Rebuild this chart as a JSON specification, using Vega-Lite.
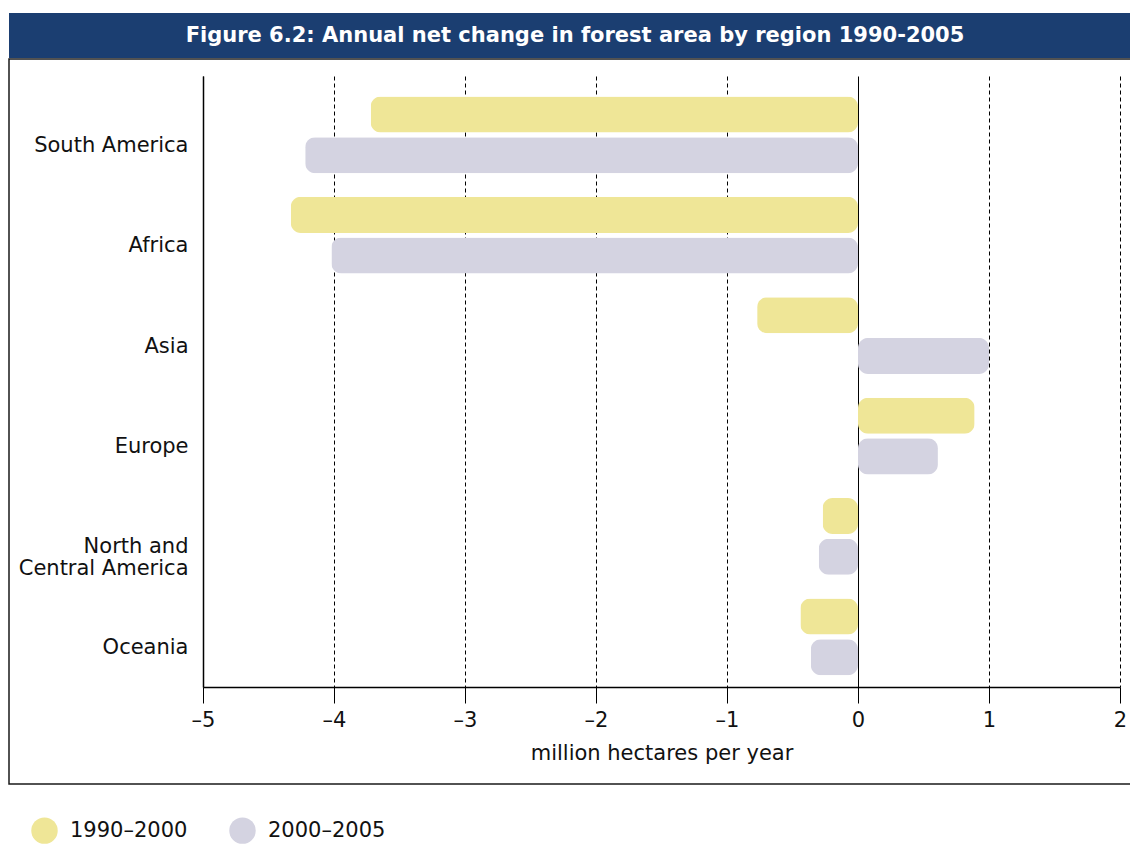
{
  "$schema": "https://vega.github.io/schema/vega-lite/v6.json",
  "padding": {"left": 8, "top": 13, "right": 0, "bottom": 0},
  "background": "white",
  "spacing": 0,
  "config": {"font": "DejaVu Sans", "view": {"stroke": null}},
  "datasets": {
    "forest": [
      {"region": "South America", "period": "1990–2000", "change": -3.72},
      {"region": "South America", "period": "2000–2005", "change": -4.22},
      {"region": "Africa", "period": "1990–2000", "change": -4.33},
      {"region": "Africa", "period": "2000–2005", "change": -4.02},
      {"region": "Asia", "period": "1990–2000", "change": -0.77},
      {"region": "Asia", "period": "2000–2005", "change": 1.0},
      {"region": "Europe", "period": "1990–2000", "change": 0.89},
      {"region": "Europe", "period": "2000–2005", "change": 0.61},
      {"region": "North and Central America", "period": "1990–2000", "change": -0.27},
      {"region": "North and Central America", "period": "2000–2005", "change": -0.3},
      {"region": "Oceania", "period": "1990–2000", "change": -0.44},
      {"region": "Oceania", "period": "2000–2005", "change": -0.36}
    ],
    "heading": [{"label": "Figure 6.2: Annual net change in forest area by region 1990-2005"}]
  },
  "vconcat": [
    {
      "width": 1124,
      "height": 45,
      "view": {"fill": "#1b3e71", "stroke": null},
      "data": {"name": "heading"},
      "mark": {"type": "text", "color": "white", "fontSize": 21, "fontWeight": "bold", "font": "DejaVu Sans", "baseline": "middle", "dx": 4},
      "encoding": {"text": {"field": "label"}}
    },
    {
      "width": 1124,
      "height": 725,
      "view": {"stroke": "#1a1a1a", "strokeWidth": 1.5, "fill": "white"},
      "data": {"name": "forest"},
      "encoding": {
        "y": {
          "field": "region",
          "type": "nominal",
          "sort": null,
          "scale": {"range": [17, 628], "paddingInner": 0, "paddingOuter": 0.043, "align": 1},
          "axis": {
            "title": null,
            "orient": "left",
            "offset": -194,
            "ticks": false,
            "domain": true,
            "domainColor": "#000",
            "domainWidth": 1.5,
            "labelFontSize": 21,
            "labelColor": "#111",
            "labelPadding": 15,
            "labelAlign": "right",
            "labelBaseline": "alphabetic",
            "labelOffset": 17,
            "labelLineHeight": 22,
            "labelLimit": 300,
            "labelExpr": "datum.value == 'North and Central America' ? ['North and', 'Central America'] : datum.value"
          }
        },
        "yOffset": {
          "field": "period",
          "type": "nominal",
          "sort": null,
          "scale": {"paddingInner": 0.115, "paddingOuter": 0.29}
        },
        "color": {
          "field": "period",
          "type": "nominal",
          "sort": null,
          "scale": {"range": ["#efe697", "#d4d3e1"]},
          "legend": {
            "title": null,
            "orient": "none",
            "legendX": 22,
            "legendY": 804,
            "direction": "horizontal",
            "symbolType": "circle",
            "symbolSize": 700,
            "symbolStrokeWidth": 0,
            "symbolOpacity": 1,
            "labelFontSize": 21,
            "labelColor": "#111",
            "labelOffset": 12,
            "columnPadding": 41,
            "padding": 0
          }
        }
      },
      "layer": [
        {
          "mark": {"type": "bar", "opacity": 0},
          "encoding": {
            "x": {
              "field": "change",
              "type": "quantitative",
              "scale": {"domain": [-5, 2], "range": [194, 1111], "nice": false},
              "axis": {
                "title": null,
                "orient": "top",
                "offset": 0,
                "values": [-5, -4, -3, -2, -1, 0, 1, 2],
                "labels": false,
                "ticks": false,
                "domain": false,
                "grid": true,
                "gridColor": "#000",
                "gridWidth": 1,
                "gridDash": {"condition": {"test": "datum.value === 0", "value": []}, "value": [4, 3]},
                "zindex": 0
              }
            }
          }
        },
        {
          "mark": {"type": "bar", "cornerRadius": 10},
          "encoding": {
            "x": {
              "field": "change",
              "type": "quantitative",
              "axis": {
                "title": "million hectares per year",
                "orient": "bottom",
                "offset": -97,
                "values": [-5, -4, -3, -2, -1, 0, 1, 2],
                "labelExpr": "replace(format(datum.value, 'd'), /[-−]/, '–')",
                "grid": false,
                "domainColor": "#000",
                "domainWidth": 1.5,
                "tickColor": "#000",
                "tickWidth": 1,
                "tickSize": 16,
                "labelFontSize": 21,
                "labelColor": "#111",
                "labelPadding": 6,
                "labelFlush": false,
                "labelOverlap": false,
                "titleFontSize": 21,
                "titleFontWeight": "normal",
                "titleColor": "#111",
                "titlePadding": 12
              }
            }
          }
        }
      ],
      "resolve": {"axis": {"x": "independent"}}
    }
  ]
}
